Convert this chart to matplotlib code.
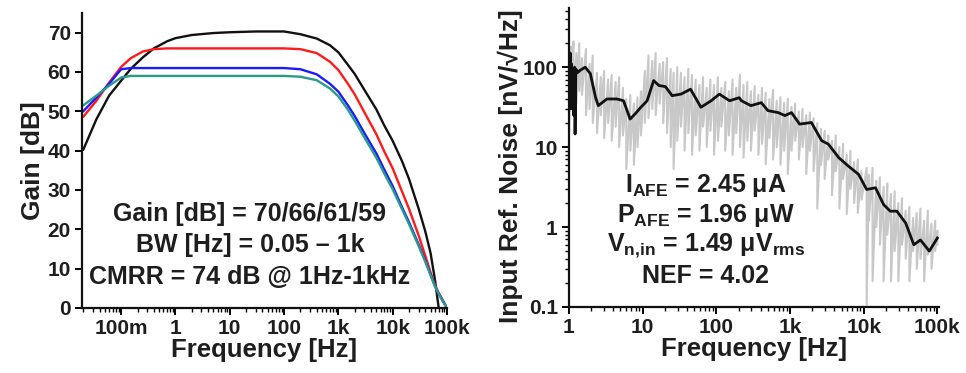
import matplotlib
matplotlib.use("Agg")
import matplotlib.pyplot as plt
from matplotlib.ticker import FixedLocator, FixedFormatter, LogLocator, NullFormatter

# ---------------- data: left panel (gain vs frequency) ----------------
gain_freq = [0.02, 0.035, 0.06, 0.1, 0.15, 0.25, 0.4, 0.7, 1, 2, 5, 10, 30, 100,
             200, 400, 700, 1000, 1500, 2000, 3000, 5000, 7000, 10000, 15000,
             20000, 30000, 40000, 50000, 60000, 70000, 85000, 100000]
gain_70 = [40.2, 48.0, 54.0, 57.8, 60.8, 63.7, 66.0, 67.8, 68.6, 69.4, 69.9, 70.1, 70.3, 70.3,
           69.6, 68.5, 66.8, 65.0, 61.8, 59.5, 55.5, 50.5, 46.4, 42.5, 37.2,
           32.8, 25.3, 19.4, 13.9, 7.2, 0.3, None, None]
gain_66 = [48.6, 52.7, 57.3, 61.3, 63.5, 65.2, 65.8, 66.0, 66.0, 66.0, 66.0, 66.0, 66.0, 66.0,
           65.8, 64.8, 62.6, 60.5, 57.0, 54.3, 49.8, 44.2, 39.8, 35.5, 29.5,
           25.2, 18.5, 13.2, 9.0, 5.8, 3.9, 1.8, 0.0]
gain_61 = [50.0, 53.5, 57.0, 60.7, 61.0, 61.0, 61.0, 61.0, 61.0, 61.0, 61.0, 61.0, 61.0, 61.0,
           60.7, 59.4, 57.0, 55.0, 51.5, 48.8, 44.5, 39.3, 35.2, 31.0, 25.5,
           21.8, 16.2, 12.0, 8.5, 5.6, 3.7, 1.7, 0.0]
gain_59 = [51.5, 54.0, 56.5, 58.6, 59.0, 59.0, 59.0, 59.0, 59.0, 59.0, 59.0, 59.0, 59.0, 59.0,
           58.8, 57.9, 55.8, 53.8, 50.4, 47.6, 43.4, 38.2, 34.2, 30.2, 25.0,
           21.3, 15.8, 11.7, 8.3, 5.5, 3.6, 1.6, 0.0]
gain_series = [gain_70, gain_66, gain_61, gain_59]
gain_colors = ["#111111", "#ff1a1a", "#1a1aff", "#2a9a8a"]

left_xticks = [0.1, 1, 10, 100, 1000, 10000, 100000]
left_xticklabels = ["100m", "1", "10", "100", "1k", "10k", "100k"]
left_yticks = [0, 10, 20, 30, 40, 50, 60, 70]
left_yticklabels = ["0", "10", "20", "30", "40", "50", "60", "70"]

# ---------------- data: right panel (input referred noise) ----------------
noise_freq = [1.0, 1.02, 1.04, 1.06, 1.08, 1.1, 1.13, 1.16, 1.19, 1.21, 1.24, 1.3,
              1.41, 1.66, 1.95, 2.29, 2.5, 3.27, 4.47, 5.5, 6.76, 7.9, 9.3, 11.5,
              14.1, 16.6, 20.4, 25.1, 33.1, 44.7, 61.7, 85, 110, 151, 204, 219, 295,
              407, 501, 692, 851, 1047, 1349, 1950, 2692, 3311, 4571, 6166,
              8511, 10965, 14454, 18621, 22909, 28184, 37154, 47863, 58884, 77625, 100000]
noise_avg = [120, 40, 150, 30, 110, 50, 90, 25, 100, 14.6, 95, 85,
             91, 100, 83, 42, 33, 40, 40, 38, 22.4, 26, 31, 38,
             68, 59, 57, 44, 46, 53, 31.5, 38, 46, 38, 41.5, 38, 33,
             36, 28.6, 27, 24.8, 27, 19.4, 20.3, 12, 10.9, 7.4, 5.8,
             4.56, 2.95, 3.1, 1.91, 1.58, 1.58, 1.12, 0.6, 0.69, 0.5, 0.73]

raw_freq = [1.0, 1.07, 1.15, 1.26, 1.38, 1.5, 1.7, 1.9, 2.1, 2.4, 2.7, 3.0, 3.4, 3.8,
            4.3, 4.8, 5.4, 6.0, 6.8, 7.6, 8.5, 9.5, 10.7, 12, 13.5, 15, 17, 19, 21.4,
            24, 26.3, 29.5, 33, 37, 41.7, 46.8, 52.5, 59, 66, 74, 83, 93, 105, 117,
            132, 148, 166, 186, 209, 234, 263, 295, 331, 372, 417, 468, 525, 589,
            661, 741, 832, 933, 1047, 1175, 1318, 1479, 1660, 1862, 2089, 2344,
            2630, 2951, 3311, 3715, 4169, 4677, 5248, 5888, 6607, 7413, 8318, 9333,
            10965, 11749, 13183, 14791, 16596, 18621, 20893, 23442, 26303, 29512,
            33113, 37154, 41687, 46774, 52481, 58884, 66069, 74131, 83176, 93325, 100000]
raw_hi = [230, 180, 210, 150, 200, 130, 170, 110, 140, 85, 75, 90, 70, 80,
          65, 75, 55, 40, 45, 35, 42, 50, 90, 140, 120, 150, 110, 116, 130,
          95, 85, 100, 85, 75, 95, 80, 70, 60, 75, 55, 70, 60, 75, 55,
          65, 50, 70, 55, 80, 60, 65, 50, 58, 45, 55, 48, 40, 52,
          38, 42, 36, 40, 32, 35, 28, 30, 25, 27, 23, 20,
          17, 16, 14, 12, 14, 10, 11, 8, 9, 6.5, 7, 5,
          5.5, 4.5, 5.5, 3.8, 4.2, 3.2, 3.5, 2.6, 2.8, 2.0,
          2.3, 1.6, 1.8, 1.3, 1.5, 1.7, 1.2, 1.6, 1.1, 1.2, 0.9]
raw_lo = [14, 30, 40, 35, 50, 45, 25, 30, 20, 15, 25, 13, 20, 12,
          18, 10, 14, 5.3, 9, 6, 10, 14, 20, 23, 30, 25, 35, 20, 15,
          10, 5.3, 12, 18, 9, 15, 8, 14, 9, 18, 10, 16, 8, 12, 18,
          9, 14, 8, 15, 10, 7.4, 12, 9, 16, 8, 11, 6.1, 13, 7,
          10, 6, 9, 4.6, 9, 12, 7, 10, 4.6, 9, 5, 1.7,
          6, 4, 7, 2.5, 5, 1.7, 4, 1.45, 3, 2, 1.5, 2.2,
          0.106, 1.2, 0.21, 1.0, 0.6, 0.21, 0.8, 0.21, 0.5, 0.21,
          0.6, 0.4, 0.21, 0.5, 0.3, 0.4, 0.21, 0.45, 0.3, 0.5, 0.6]

right_xticks = [1, 10, 100, 1000, 10000, 100000]
right_xticklabels = ["1", "10", "100", "1k", "10k", "100k"]
right_yticks = [0.1, 1, 10, 100]
right_yticklabels = ["0.1", "1", "10", "100"]

left_notes = ["Gain [dB] = 70/66/61/59", "BW [Hz] = 0.05 \u2013 1k", "CMRR = 74 dB @ 1Hz-1kHz"]
right_notes = ["I$_{\\mathrm{AFE}}$ = 2.45 \u03bcA",
               "P$_{\\mathrm{AFE}}$ = 1.96 \u03bcW",
               "V$_{\\mathrm{n{,}in}}$ = 1.49 \u03bcV$_{\\mathrm{rms}}$",
               "NEF = 4.02"]

# ---------------- style ----------------
plt.rcParams["font.family"] = ["Liberation Sans", "DejaVu Sans"]
plt.rcParams["font.weight"] = "bold"
plt.rcParams["axes.labelweight"] = "bold"
plt.rcParams["mathtext.fontset"] = "custom"
plt.rcParams["mathtext.rm"] = "Liberation Sans:bold"
plt.rcParams["mathtext.it"] = "Liberation Sans:bold"
plt.rcParams["mathtext.bf"] = "Liberation Sans:bold"
plt.rcParams["mathtext.default"] = "rm"

TXT = "#1e1e1e"
TICK_FS = 15
XLABEL_FS = 18.5
YLABEL_FS = 19
NOTE_FS = 18

fig = plt.figure(figsize=(9.66, 3.73), dpi=100)
axL = fig.add_axes([0.0849, 0.1743, 0.3778, 0.7909])
axR = fig.add_axes([0.589, 0.177, 0.383, 0.8016])

for ax in (axL, axR):
    for s in ("top", "right"):
        ax.spines[s].set_visible(False)
    for s in ("left", "bottom"):
        ax.spines[s].set_linewidth(1.6)
        ax.spines[s].set_color("#111111")
    ax.set_xscale("log")
    ax.tick_params(which="major", direction="out", length=5, width=1.4,
                   labelsize=TICK_FS, labelcolor=TXT, pad=3)
    ax.tick_params(which="minor", direction="out", length=3, width=1.0)

# left panel
for vals, col in zip(gain_series, gain_colors):
    ax_f = [f for f, v in zip(gain_freq, vals) if v is not None]
    ax_v = [v for v in vals if v is not None]
    axL.plot(ax_f, ax_v, color=col, lw=1.7, solid_capstyle="round")
axL.set_xlim(0.019, 1e5)
axL.set_ylim(0, 75)
axL.xaxis.set_major_locator(FixedLocator(left_xticks))
axL.xaxis.set_major_formatter(FixedFormatter(left_xticklabels))
axL.xaxis.set_minor_locator(LogLocator(base=10, subs=range(2, 10), numticks=20))
axL.xaxis.set_minor_formatter(NullFormatter())
axL.yaxis.set_major_locator(FixedLocator(left_yticks))
axL.yaxis.set_major_formatter(FixedFormatter(left_yticklabels))
axL.set_xlabel("Frequency [Hz]", fontsize=XLABEL_FS, color=TXT, labelpad=0, fontweight="bold")
axL.set_ylabel("Gain [dB]", fontsize=YLABEL_FS, color=TXT, labelpad=2, fontweight="bold")
for i, t in enumerate(left_notes):
    axL.text(0.46, 0.32 - i * 0.107, t, transform=axL.transAxes, ha="center", va="center",
             fontsize=NOTE_FS, color=TXT, fontweight="bold")

# right panel
gx, gy = [], []
for f, h, l in zip(raw_freq, raw_hi, raw_lo):
    gx += [f, f]
    gy += [h, l]
axR.plot(gx, gy, color="#c8c8c8", lw=1.5, zorder=1)
axR.plot(noise_freq, noise_avg, color="#111111", lw=2.0, zorder=2)
axR.set_yscale("log")
axR.set_xlim(1, 1.05e5)
axR.set_ylim(0.1, 550)
axR.xaxis.set_major_locator(FixedLocator(right_xticks))
axR.xaxis.set_major_formatter(FixedFormatter(right_xticklabels))
axR.xaxis.set_minor_locator(LogLocator(base=10, subs=range(2, 10), numticks=20))
axR.xaxis.set_minor_formatter(NullFormatter())
axR.yaxis.set_major_locator(FixedLocator(right_yticks))
axR.yaxis.set_major_formatter(FixedFormatter(right_yticklabels))
axR.yaxis.set_minor_locator(LogLocator(base=10, subs=range(2, 10), numticks=20))
axR.yaxis.set_minor_formatter(NullFormatter())
axR.set_xlabel("Frequency [Hz]", fontsize=XLABEL_FS, color=TXT, labelpad=0, fontweight="bold")
axR.set_ylabel("Input Ref. Noise [nV/\u221aHz]", fontsize=YLABEL_FS, color=TXT,
               fontweight="bold")
axR.yaxis.set_label_coords(-0.125, 0.47)
for i, t in enumerate(right_notes):
    axR.text(0.37, 0.405 - i * 0.1, t, transform=axR.transAxes, ha="center", va="center",
             fontsize=NOTE_FS, color=TXT, fontweight="bold")

fig.savefig("out.png", dpi=100)
